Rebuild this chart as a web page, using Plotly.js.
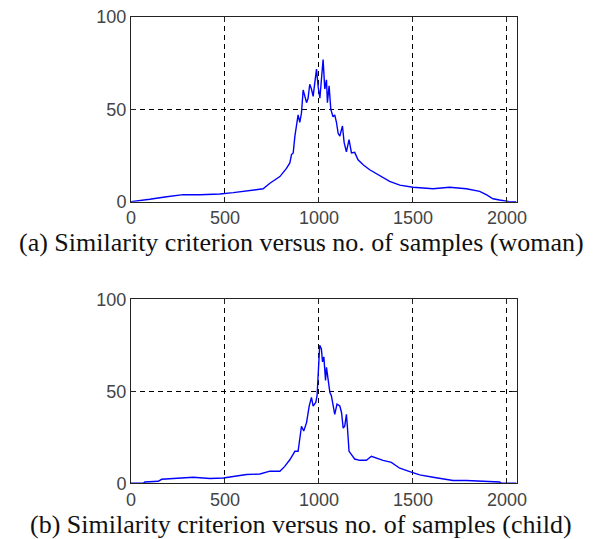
<!DOCTYPE html>
<html><head><meta charset="utf-8">
<script src="https://cdn.plot.ly/plotly-3.0.1.min.js"></script>
<style>html,body{margin:0;padding:0;background:#fff}#chart{width:602px;height:539px}</style>
</head><body><div id="chart"></div>
<script>
// (a) woman
const womanX = [0,30,100,190,278,367,473,544,632,703,739,792,827,845,854,863,872,880,889,898,907,916,925,934,942,951,960,969,978,987,996,1005,1013,1022,1031,1040,1045,1054,1063,1075,1084,1093,1102,1111,1125,1134,1146,1160,1173,1190,1208,1235,1270,1297,1332,1376,1430,1500,1607,1695,1784,1855,1890,1926,1961,2005,2014,2050];
const womanY = [0,0.5,1.3,2.7,3.8,3.8,4.2,4.9,6,7,10,13.6,18,21,25.5,26.4,35.5,41,47,43,48,60.5,57,53.6,56,63.6,61,57,64.5,71.8,62,56,66,77,61,66,53.6,62.7,50,46,47,43,37,35.5,41,32,27,33.6,26.4,26.7,22.7,20,17.3,15.8,13.6,11,9,7.8,7,7.8,7,5.6,3.8,1.6,0.9,0.4,0,0];
// (b) child
const childX = [0,65,74,145,163,243,331,420,491,544,615,686,739,792,818,845,872,889,898,907,919,934,948,960,969,983,990,999,1004,1013,1019,1026,1035,1040,1049,1058,1066,1075,1084,1096,1111,1120,1129,1137,1146,1151,1160,1173,1190,1217,1252,1279,1306,1341,1385,1430,1483,1536,1607,1642,1713,1784,1873,1890,1961,1970,2050];
const childY = [0,0,0.7,1.1,2.2,2.6,3.3,2.6,2.9,3.7,4.8,5.1,6.6,6.6,9.2,12.8,17.4,17.4,23.8,31,28.4,33,42,46.7,42,44,47.6,62,75,73,66,68.7,55.9,63,55,49.5,47.6,42.5,37.5,43,42,38.5,30,31,37.5,31,17.4,15.6,13.2,12.5,12.5,14.7,13.6,12.5,11.4,8.2,6.4,4.6,3.3,2.6,1.5,1.5,1.1,0.7,0.7,0,0];
const xTicks = [0,500,1000,1500,2000];
const yTicks = [0,50,100];
const captions = ["(a) Similarity criterion versus no. of samples (woman)",
                  "(b) Similarity criterion versus no. of samples (child)"];

const lineStyle = {color:'#0000ff', width:1.4};
const traces = [
  {x:womanX, y:womanY, type:'scatter', mode:'lines', line:lineStyle, xaxis:'x', yaxis:'y', hoverinfo:'skip'},
  {x:childX, y:childY, type:'scatter', mode:'lines', line:lineStyle, xaxis:'x2', yaxis:'y2', hoverinfo:'skip'}
];
const tickFont = {family:'Liberation Sans, Arial, sans-serif', size:18, color:'#444'};
function xa(anchor){return {domain:[0.2176,0.8583], range:[0,2052], anchor:anchor,
  tickmode:'array', tickvals:xTicks, ticktext:xTicks.map(String),
  showline:true, linecolor:'#222', linewidth:1, mirror:'ticks', ticks:'inside', ticklen:5, tickcolor:'#222',
  showgrid:true, gridcolor:'#000', griddash:'5px,4px', gridwidth:1, zeroline:false, tickfont:tickFont, fixedrange:true};}
function ya(dom, anchor){return {domain:dom, range:[0,100], anchor:anchor,
  tickmode:'array', tickvals:yTicks, ticktext:yTicks.map(String),
  showline:true, linecolor:'#222', linewidth:1, mirror:'ticks', ticks:'inside', ticklen:5, tickcolor:'#222',
  showgrid:true, gridcolor:'#000', griddash:'5px,4px', gridwidth:1, zeroline:false, tickfont:tickFont, fixedrange:true};}
const capFont = {family:'Liberation Serif, Times New Roman, serif', size:26, color:'#111'};
const layout = {
  width:602, height:539, margin:{l:0,r:0,t:0,b:0}, showlegend:false,
  paper_bgcolor:'#fff', plot_bgcolor:'#fff',
  xaxis: xa('y'), yaxis: ya([0.6258,0.9685],'x'),
  xaxis2: xa('y2'), yaxis2: ya([0.1033,0.4447],'x2'),
  annotations:[
    {text:captions[0], xref:'paper', yref:'paper', x:0.5, y:1-242/539, xanchor:'center', yanchor:'middle', showarrow:false, font:capFont},
    {text:captions[1], xref:'paper', yref:'paper', x:0.5, y:1-524/539, xanchor:'center', yanchor:'middle', showarrow:false, font:capFont}
  ]
};
Plotly.newPlot('chart', traces, layout, {staticPlot:true});
</script></body></html>
